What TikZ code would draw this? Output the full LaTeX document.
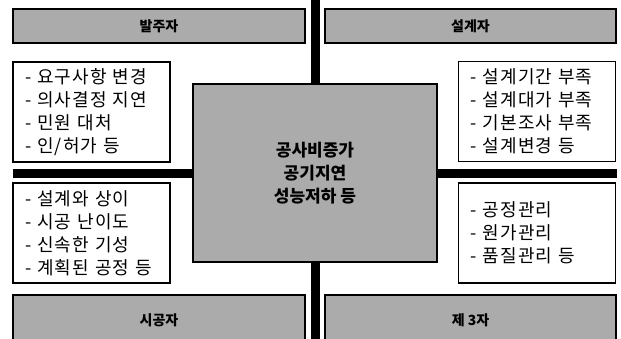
\documentclass[tikz,border=0pt]{standalone}
\usepackage{fontspec}
\newfontfamily\kr{Noto Sans CJK KR}
\newfontfamily\krwide[LetterSpace=6]{Noto Sans CJK KR}
\usepackage{tikz}
\usetikzlibrary{positioning}

\begin{document}
\begin{tikzpicture}[x=1pt, y=-1pt,
  every node/.style={font=\kr},
  headbox/.style={draw, line width=1.3pt, fill=black!33, minimum width=292pt,
    minimum height=34pt, font=\kr\bfseries\fontsize{14}{16}\selectfont},
  listbox/.style={draw, line width=1.3pt, fill=white, minimum width=157pt,
    minimum height=100pt, text width=133pt, align=left,
    font=\krwide\fontsize{18}{23}\selectfont},
  centerbox/.style={draw, line width=1.3pt, fill=black!33, minimum width=244pt,
    minimum height=178pt, align=center, font=\kr\bfseries\fontsize{17}{23}\selectfont},
  bar/.style={line width=9pt}]
\useasboundingbox (0,0) rectangle (621,338);

% --- Parties ---
\node[headbox] (balju) at (159,26) {발주자};
\node[headbox, minimum width=291pt] (seolgye) at (470.5,26) {설계자};
\node[headbox, minimum height=50pt] (sigong) at (159,320) {시공자};
\node[headbox, minimum width=291pt, minimum height=50pt] (je3) at (470.5,320) {제 3자};

% --- Causes ---
\node[listbox] (baljuitem) at (91.5,112) {- 요구사항 변경\\- 의사결정 지연\\- 민원 대처\\- 인/허가 등};
\node[listbox] (sigongitem) at (91.5,233) {- 설계와 상이\\- 시공 난이도\\- 신속한 기성\\- 계획된 공정 등};
\node[listbox] (seolgyeitem) at (537,111.5) {- 설계기간 부족\\- 설계대가 부족\\- 기본조사 부족\\- 설계변경 등};
\node[listbox] (je3item) at (537,233) {- 공정관리\\- 원가관리\\- 품질관리 등};

% --- Effect ---
\node[centerbox] (gongsa) at (315,173) {공사비증가\\공기지연\\성능저하 등};

% --- Thick bars ---
\coordinate (ntop) at (315,-2);
\coordinate (sbot) at (315,345);
\coordinate (wleft) at (13,173);
\coordinate (eright) at (617,173);
\foreach \c in {ntop, sbot, wleft, eright}
  \draw[bar] (gongsa) -- (\c);
\end{tikzpicture}
\end{document}
